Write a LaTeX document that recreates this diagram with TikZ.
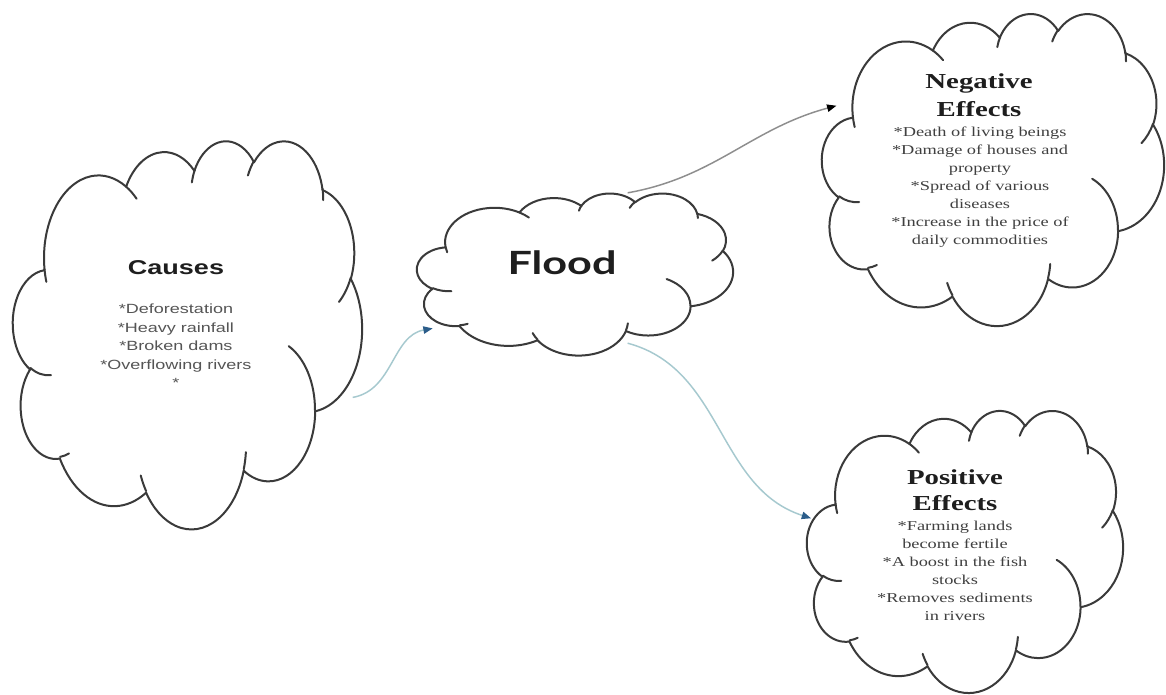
\documentclass[tikz,border=0pt]{standalone}
\usepackage{fontspec}
\usepackage{graphicx}
\setmainfont{Liberation Serif}
\setsansfont{Liberation Sans}
\newfontfamily\floodfont{Lato}
\usetikzlibrary{arrows.meta,shapes.geometric}
\definecolor{cloudgray}{HTML}{3A3A3A}
\definecolor{tealline}{HTML}{A6C9CF}
\definecolor{tealhead}{HTML}{2B5D8A}
\definecolor{grayline}{HTML}{8E8E8E}
\definecolor{itemgray}{HTML}{555555}
\definecolor{textdark}{HTML}{1E1E1E}
% Office-style cloud arcs (visual angles -> parametric angles)
\newcommand\ooset[5]{%
  \pgfmathsetmacro\ooa{atan2((#2)*sin(#4),(#3)*cos(#4))}%
  \pgfmathsetmacro\oob{atan2((#2)*sin((#4)+(#5)),(#3)*cos((#4)+(#5)))}%
  \pgfmathsetmacro\ood{\oob-\ooa}%
  \pgfmathsetmacro\ood{ifthenelse(\ood<0,\ood+360,\ood)}%
  \edef\ootmp{\noexpand\tikzset{#1/.style={start angle=\ooa, delta angle=\ood, x radius=#2, y radius=#3}}}%
  \ootmp}
\ooset{c1}{6.753}{9.190}{-190.4875}{123.7805}
\ooset{c2}{5.333}{7.267}{-144.1024}{89.9452}
\ooset{c3}{4.365}{5.945}{-145.8079}{99.7230}
\ooset{c4}{4.857}{6.595}{-130.9861}{117.2417}
\ooset{c5}{5.333}{7.273}{-78.7089}{109.0269}
\ooset{c6}{6.775}{9.220}{-46.2673}{130.2690}
\ooset{c7}{5.785}{7.867}{0.6250}{114.0333}
\ooset{c8}{6.752}{9.215}{22.4516}{115.1726}
\ooset{c9}{7.720}{10.543}{66.2426}{75.7110}
\ooset{c10}{4.360}{5.918}{-274.9421}{146.7356}
\ooset{c11}{4.345}{5.945}{-246.8285}{152.5189}
\ooset{i1}{4.345}{5.945}{86.7420}{26.4295}
\ooset{i2}{4.360}{5.918}{73.6105}{11.4475}
\ooset{i3}{6.752}{9.215}{137.6242}{14.0811}
\ooset{i4}{6.752}{9.215}{6.4533}{15.9984}
\ooset{i5}{5.785}{7.867}{-70.2924}{70.9174}
\ooset{i6}{5.333}{7.273}{30.3180}{27.7515}
\ooset{i7}{4.857}{6.595}{-13.7443}{14.8589}
\ooset{i8}{4.857}{6.595}{-149.1815}{18.1954}
\ooset{i9}{4.365}{5.945}{-163.4943}{17.6864}
\ooset{i10}{6.753}{9.190}{-66.7070}{12.3194}
\ooset{i11}{6.753}{9.190}{157.6544}{11.8582}
\tikzset{
  cloudstroke/.style={draw=cloudgray, line width=1.5pt, line join=round, line cap=round},
  anchorshape/.style={draw=none, ellipse, inner sep=0pt},
  txt/.style={inner sep=0pt, align=center},
  tealconn/.style={draw=tealline, line width=1.1pt, -{Triangle[length=7pt,width=5.5pt,color=tealhead]}},
  grayconn/.style={draw=grayline, line width=1.1pt, -{Triangle[length=7pt,width=5.5pt,color=black]}},
}
\newcommand\wordcloud[4]{%
  \pgfmathsetmacro\wcx{#3*0.75/43.2}%
  \pgfmathsetmacro\wcy{#4*0.75/43.2}%
  \begin{scope}[shift={(#1,#2)},x=\wcx pt,y=-\wcy pt]
    \draw[cloudstroke, fill=white] (3.900,14.370) arc[c1] arc[c2] arc[c3] arc[c4] arc[c5] arc[c6] arc[c7] arc[c8] arc[c9] arc[c10] arc[c11] -- cycle;
    \draw[cloudstroke] (4.693,26.177) arc[i1] (6.928,34.899) arc[i2] (16.478,39.090) arc[i3] (28.827,34.751) arc[i4] (34.129,22.954) arc[i5] (41.798,15.354) arc[i6] (38.324,5.426) arc[i7] (29.078,3.952) arc[i8] (22.141,4.720) arc[i9] (14.000,5.192) arc[i10] (4.127,15.789) arc[i11];
  \end{scope}}
\newcommand\sx[1]{\scalebox{1.35}[1]{#1}}
\begin{document}
\begin{tikzpicture}[x=0.75pt,y=-0.75pt]
\fill[white] (0,0) rectangle (1166,694);
\useasboundingbox (0,0) rectangle (1166,694);
% clouds
\wordcloud{13}{140}{349}{388}
\wordcloud{417}{193}{316}{162}
\wordcloud{822}{13}{342}{312}
\wordcloud{807}{410}{316}{282}
% invisible anchor nodes
\node[anchorshape, minimum width=261.75pt, minimum height=291pt] (causesN) at (187.5,334) {};
\node[anchorshape, minimum width=342pt, minimum height=115.5pt] (floodN) at (575,268) {};
\node[anchorshape, minimum width=256.5pt, minimum height=234pt] (negN) at (993,169) {};
\node[anchorshape, minimum width=237pt, minimum height=211.5pt] (posN) at (965,551) {};
% texts
\node[txt, text=textdark] (causesH) at (176,268) {\sx{\sffamily\bfseries\fontsize{15}{18}\selectfont Causes}};
\node[txt, text=itemgray] (causesI) at (176,347) {\sx{\sffamily\fontsize{10}{13.8}\selectfont\begin{tabular}{@{}c@{}}*Deforestation\\{}*Heavy rainfall\\{}*Broken dams\\{}*Overflowing rivers\\{}*\end{tabular}}};
\node[txt, text=textdark, anchor=base] (floodT) at (562,274) {\sx{\floodfont\bfseries\fontsize{24}{28}\selectfont Flood}};
\node[txt, text=textdark] (negH) at (979,97) {\sx{\bfseries\fontsize{16}{21}\selectfont\begin{tabular}{@{}c@{}}Negative\\Effects\end{tabular}}};
\node[txt, text=textdark!85] (negI) at (980,187) {\sx{\fontsize{10.2}{13.5}\selectfont\begin{tabular}{@{}c@{}}*Death of living beings\\{}*Damage of houses and\\property\\{}*Spread of various\\diseases\\{}*Increase in the price of\\daily commodities\end{tabular}}};
\node[txt, text=textdark] (posH) at (955,492) {\sx{\bfseries\fontsize{16}{20}\selectfont\begin{tabular}{@{}c@{}}Positive\\Effects\end{tabular}}};
\node[txt, text=textdark!85] (posI) at (955,572) {\sx{\fontsize{10.2}{13.5}\selectfont\begin{tabular}{@{}c@{}}*Farming lands\\become fertile\\{}*A boost in the fish\\stocks\\{}*Removes sediments\\in rivers\end{tabular}}};
% connectors
\draw[tealconn] (causesN.-21.5) to[out=10,in=190] (floodN.-157.2);
\draw[grayconn] (floodN.55.27) to[out=10,in=195] (negN.158.5);
\draw[tealconn] (floodN.-55.27) to[out=-15,in=162] (posN.168);
\end{tikzpicture}
\end{document}
